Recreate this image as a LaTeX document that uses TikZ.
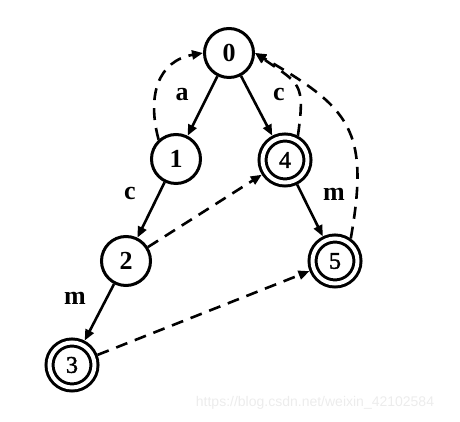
\documentclass[tikz,border=0pt]{standalone}
\usepackage{fontspec}
\setmainfont{Liberation Serif}
\setsansfont{Liberation Sans}
\newfontfamily\accfont{Liberation Serif}[BoldFont={Liberation Serif}, BoldFeatures={FakeBold=1.6}]
\usetikzlibrary{arrows.meta}
\definecolor{markgray}{RGB}{236,236,236}

\begin{document}
\begin{tikzpicture}[x=1pt,y=1pt,
    >={Triangle[length=11pt,width=9pt]},
    state/.style={circle, draw, line width=3pt, minimum size=49pt, inner sep=0pt,
      font=\fontsize{26}{26}\selectfont\bfseries},
    accept/.style={circle, draw, line width=3pt, double, double distance=4pt,
      minimum size=45pt, inner sep=0pt, outer sep=5pt,
      font=\accfont\fontsize{24}{24}\selectfont\bfseries},
    trans/.style={->, line width=2.6pt},
    back/.style={->, line width=2.6pt, dash pattern=on 12pt off 8pt},
    sym/.style={font=\fontsize{26}{26}\selectfont\bfseries}]
        \useasboundingbox (0,0) rectangle (460,422);
        % states
        \node[state]  (n0) at (229,369) {0};
        \node[state]  (n1) at (176,263) {1};
        \node[accept] (n4) at (285,262) {4};
        \node[state]  (n2) at (126,161) {2};
        \node[accept] (n5) at (335,161) {5};
        \node[accept] (n3) at (72,57)   {3};
        % goto edges
        \draw[trans] (n0) -- (n1);
        \draw[trans] (n0) -- (n4);
        \draw[trans] (n1) -- (n2);
        \draw[trans] (n4) -- (n5);
        \draw[trans] (n2) -- (n3);
        % failure links
        \draw[back] (n1.132) to[out=105,in=190,looseness=1.2] (n0.west);
        \draw[back] (n4.62) to[out=82,in=-35,looseness=1.5] (n0.east);
        \draw[back] (n5.55) to[out=80,in=-30,looseness=1.35] (n0.east);
        \draw[back] (n2) -- (n4);
        \draw[back] (n3) -- (n5);
        % symbols
        \node[sym] (la)  at (182,327) {a};
        \node[sym] (lc1) at (279,327) {c};
        \node[sym] (lc2) at (130,228) {c};
        \node[sym] (lm1) at (334,228) {m};
        \node[sym] (lm2) at (75,124)  {m};
        \node[font=\sffamily\fontsize{14}{14}\selectfont, text=markgray] (wm) at (315,19)
          {https://blog.csdn.net/weixin\_42102584};
      \end{tikzpicture}
\end{document}
